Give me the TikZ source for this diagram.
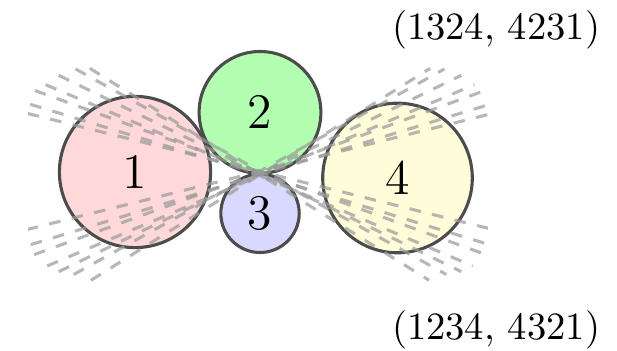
\documentclass[tikz,border=0pt]{standalone}
\usetikzlibrary{calc}
\begin{document}
\begin{tikzpicture}[x=0.2591pt,y=0.2591pt,
  disk/.style={draw=black!70,thick},
  transv/.style={draw=black!40,thick,dashed,opacity=0.7},
  num/.style={font=\fontsize{12.9}{15}\selectfont}]
\useasboundingbox (0,0) rectangle (617,351);
\coordinate (O) at (260,177.5);
% the four disks
\draw[disk,fill=red!15]    (135,179)   circle (75.6) node[num] (n1) {1};
\draw[disk,fill=green!30]  (260,238.6) circle (60.9) node[num] (n2) {2};
\draw[disk,fill=blue!15]   (260,137.7) circle (39.2) node[num] (n3) {3};
\draw[disk,fill=yellow!15] (397.5,173) circle (74.8) node[num] (n4) {4};
% line transversals
\begin{scope}
\clip (28,40) rectangle (488,300);
\foreach \a/\d/\l in {14/2/240,17/-1/240,20/1/240,23/-2/232,26/0/224,29/2/212,32/-1/200}{
  \draw[transv] ($(O)+(\a+90:\d)+(\a+180:\l)$) -- ($(O)+(\a+90:\d)+(\a:\l)$);
  \draw[transv] ($(O)+(90-\a:\d)+(180-\a:\l)$) -- ($(O)+(90-\a:\d)+(-\a:\l)$);
}
\end{scope}
\node (p1) at (496,321) {(1324, 4231)};
\node (p2) at (496,21) {(1234, 4321)};
\end{tikzpicture}
\end{document}
